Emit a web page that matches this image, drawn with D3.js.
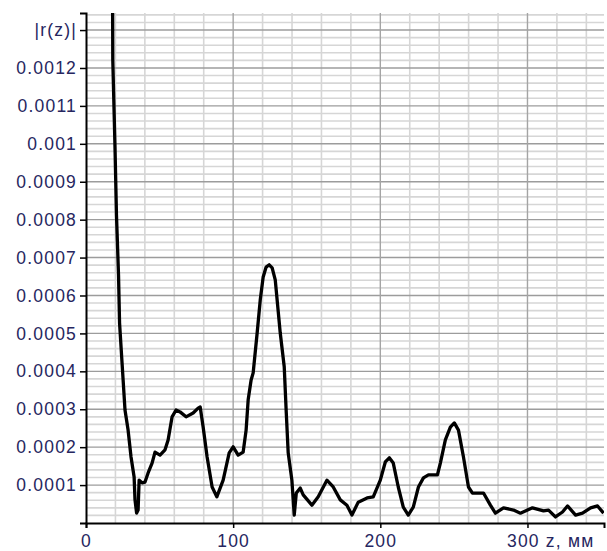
<!DOCTYPE html>
<html>
<head>
<meta charset="utf-8">
<script src="https://cdn.jsdelivr.net/npm/d3@7/dist/d3.min.js"></script>
<style>
  body { margin: 0; background: #fff; }
  text { font-family: "Liberation Sans", Arial, sans-serif; }
</style>
</head>
<body>
<div id="chart"></div>
<script>
// z, mm
var zValues = [18.0, 18.2, 19.7, 20.7, 22.1, 22.8, 24.5, 26.5, 28.6, 30.6, 32.7, 33.3, 34.4, 35.4, 36.1,
  38.1, 40.1, 42.2, 44.9, 46.9, 50.3, 53.7, 55.8, 58.5, 61.2, 63.9, 68.0, 72.8, 76.2, 77.6,
  79.6, 82.3, 85.7, 88.9, 93.2, 97.3, 100.0, 103.4, 106.8, 108.8, 110.2, 112.2, 113.6, 116.3, 118.4,
  120.4, 122.4, 124.5, 126.5, 128.6, 132.0, 134.7, 136.1, 137.4, 139.9, 141.5, 142.9, 145.6, 147.6,
  153.5, 157.8, 163.7, 168.0, 172.8, 177.3, 180.7, 185.0, 191.0, 195.2, 200.0, 203.4, 206.1, 208.8,
  212.2, 215.6, 219.0, 222.4, 225.9, 229.3, 232.7, 238.8, 240.8, 244.2, 247.6, 250.3, 253.1, 256.5,
  259.9, 262.6, 270.1, 274.8, 278.2, 283.7, 290.5, 295.2, 303.4, 310.9, 314.3, 319.0, 323.8, 327.2,
  332.7, 337.4, 342.9, 347.6, 351.7];
// |r(z)|, units of 1e-4
var rValues = [14.5, 12.22, 9.92, 8.13, 6.54, 5.28, 4.22, 2.98, 2.45, 1.74, 1.21, 0.61, 0.26, 0.34, 1.13,
  1.06, 1.08, 1.32, 1.58, 1.87, 1.79, 1.93, 2.19, 2.80, 2.98, 2.93, 2.80, 2.90, 3.03, 3.06,
  2.53, 1.74, 0.95, 0.69, 1.13, 1.85, 2.01, 1.79, 1.87, 2.45, 3.25, 3.77, 3.96, 5.01, 5.88,
  6.49, 6.75, 6.81, 6.73, 6.41, 5.01, 4.12, 2.90, 1.85, 1.13, 0.21, 0.79, 0.92, 0.74,
  0.47, 0.69, 1.13, 0.95, 0.61, 0.47, 0.21, 0.55, 0.66, 0.69, 1.13, 1.61, 1.72, 1.58,
  0.95, 0.42, 0.21, 0.42, 0.95, 1.19, 1.27, 1.27, 1.58, 2.19, 2.53, 2.64, 2.45, 1.74,
  0.95, 0.79, 0.79, 0.47, 0.26, 0.40, 0.34, 0.26, 0.40, 0.32, 0.34, 0.16, 0.29, 0.45,
  0.21, 0.26, 0.40, 0.45, 0.26];

var yTickValues = [0.0001, 0.0002, 0.0003, 0.0004, 0.0005, 0.0006, 0.0007, 0.0008, 0.0009, 0.001, 0.0011, 0.0012, 0.0013];
var yTickLabels = ["0.0001", "0.0002", "0.0003", "0.0004", "0.0005", "0.0006", "0.0007", "0.0008", "0.0009", "0.001", "0.0011", "0.0012", "|r(z)|"];
var xTickValues = [0, 100, 200, 300];
var xTickLabels = ["0", "100", "200", "300"];

var data = zValues.map(function (z, i) { return { z: z, r: rValues[i] * 1e-4 }; });

var W = 607, H = 551;
var margin = { top: 13, right: 3, bottom: 28, left: 86 };
var width = W - margin.left - margin.right,
    height = H - margin.top - margin.bottom;

var svg = d3.select("#chart").append("svg")
    .attr("width", W).attr("height", H);
var g = svg.append("g")
    .attr("transform", "translate(" + margin.left + "," + margin.top + ")");

var x = d3.scaleLinear().domain([0, 352]).range([0, width]);
var y = d3.scaleLinear().domain([0, 0.001345]).range([height, 0]);

// minor grid
var xMinor = d3.range(20, 352, 20).filter(function (v) { return v % 100 !== 0; });
var yMinor = d3.range(1, 68).map(function (i) { return i * 0.00002; })
    .filter(function (v, i) { return (i + 1) % 5 !== 0; });

g.append("g").selectAll("line").data(yMinor).enter().append("line")
    .attr("x1", 0).attr("x2", width)
    .attr("y1", function (d) { return y(d); }).attr("y2", function (d) { return y(d); })
    .attr("stroke", "#d6d6d6").attr("stroke-width", 1.6);
g.append("g").selectAll("line").data(xMinor).enter().append("line")
    .attr("y1", 0).attr("y2", height)
    .attr("x1", function (d) { return x(d); }).attr("x2", function (d) { return x(d); })
    .attr("stroke", "#d6d6d6").attr("stroke-width", 1.6);

// major grid
g.append("g").selectAll("line").data(yTickValues).enter().append("line")
    .attr("x1", 0).attr("x2", width)
    .attr("y1", function (d) { return y(d); }).attr("y2", function (d) { return y(d); })
    .attr("stroke", "#9c9c9c").attr("stroke-width", 1.4);
g.append("g").selectAll("line").data(xTickValues.slice(1)).enter().append("line")
    .attr("y1", 0).attr("y2", height)
    .attr("x1", function (d) { return x(d); }).attr("x2", function (d) { return x(d); })
    .attr("stroke", "#a4a4a4").attr("stroke-width", 1.4);

// the curve
g.append("clipPath").attr("id", "clip").append("rect")
    .attr("width", width).attr("height", height);
g.append("path")
    .datum(data)
    .attr("clip-path", "url(#clip)")
    .attr("fill", "none")
    .attr("stroke", "#000")
    .attr("stroke-width", 3.3)
    .attr("stroke-linejoin", "round")
    .attr("d", d3.line().x(function (d) { return x(d.z); }).y(function (d) { return y(d.r); }));

// axes
var yAxis = g.append("g")
    .call(d3.axisLeft(y).tickValues(yTickValues).tickSize(6)
        .tickFormat(function (d, i) { return yTickLabels[i]; }));
var xAxis = g.append("g")
    .attr("transform", "translate(0," + height + ")")
    .call(d3.axisBottom(x).tickValues(xTickValues).tickSize(5)
        .tickFormat(function (d, i) { return xTickLabels[i]; }));

[yAxis, xAxis].forEach(function (a) {
  a.select(".domain").attr("stroke", "#000").attr("stroke-width", 2);
  a.selectAll(".tick line").attr("stroke", "#000").attr("stroke-width", 1.5);
  a.selectAll("text")
      .attr("fill", "#262660")
      .style("font-size", "17.5px")
      .style("letter-spacing", "1.2px")
      .style("font-family", "'Liberation Sans', Arial, sans-serif");
});
yAxis.selectAll("text").attr("x", -9);
xAxis.selectAll("text").attr("y", 12);

// unit after 300
xAxis.selectAll(".tick").filter(function (d) { return d === 300; }).select("text")
    .attr("text-anchor", "start").attr("x", -21)
    .text("300 z, мм");
</script>
</body>
</html>
